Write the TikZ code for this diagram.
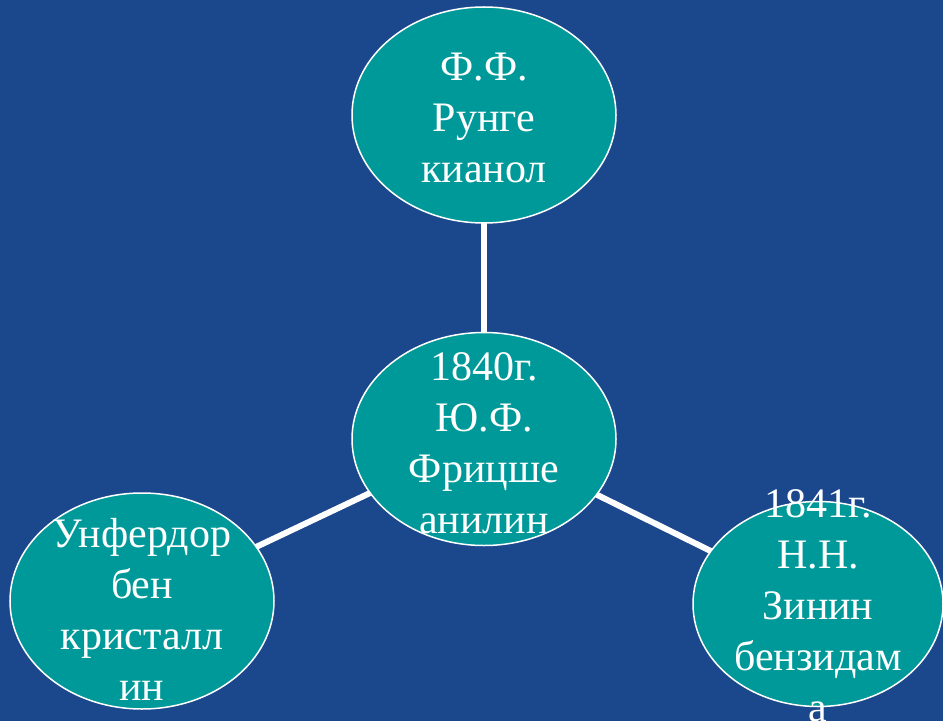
\documentclass[tikz,border=0pt]{standalone}
\usepackage{fontspec}
\setmainfont{Liberation Serif}
\usetikzlibrary{shapes.geometric}
\definecolor{bgblue}{RGB}{27,71,140}
\definecolor{teal}{RGB}{0,153,153}
\tikzset{
  oval/.style={ellipse, draw=white, line width=1.5bp, fill=teal, inner sep=0pt},
  ovaltext/.style={text=white, align=center, inner sep=0pt,
    font=\fontsize{42bp}{51bp}\selectfont},
  link/.style={draw=white, line width=6bp}
}
\begin{document}
\begin{tikzpicture}[x=1bp, y=-1bp]
\fill[bgblue] (0,0) rectangle (943,721);
\useasboundingbox (0,0) rectangle (943,721);
\coordinate (ctop) at (484,115);
\coordinate (cmid) at (484,439);
\coordinate (cleft) at (142,601);
\coordinate (cright) at (818,604);
\draw[link] (ctop) -- (cmid);
\draw[link] (cmid) -- (cleft);
\draw[link] (cmid) -- (cright);
\node[oval, minimum width=264bp, minimum height=216bp] (top) at (ctop) {};
\node[oval, minimum width=264bp, minimum height=213bp] (mid) at (cmid) {};
\node[oval, minimum width=264bp, minimum height=216bp] (left) at (cleft) {};
\node[oval, minimum width=250bp, minimum height=205bp] (right) at (cright) {};
\node[ovaltext] (toptext) at ([yshift=-3bp]top.center) {Ф.Ф.\\Рунге\\кианол};
\node[ovaltext] (midtext) at ([yshift=-4bp]mid.center) {1840г.\\Ю.Ф.\\Фрицше\\анилин};
\node[ovaltext] (lefttext) at ([yshift=-8bp]left.center) {Унфердор\\бен\\кристалл\\ин};
\node[ovaltext] (righttext) at ([yshift=-2bp]right.center) {1841г.\\Н.Н.\\Зинин\\бензидам\\а};
\end{tikzpicture}
\end{document}
